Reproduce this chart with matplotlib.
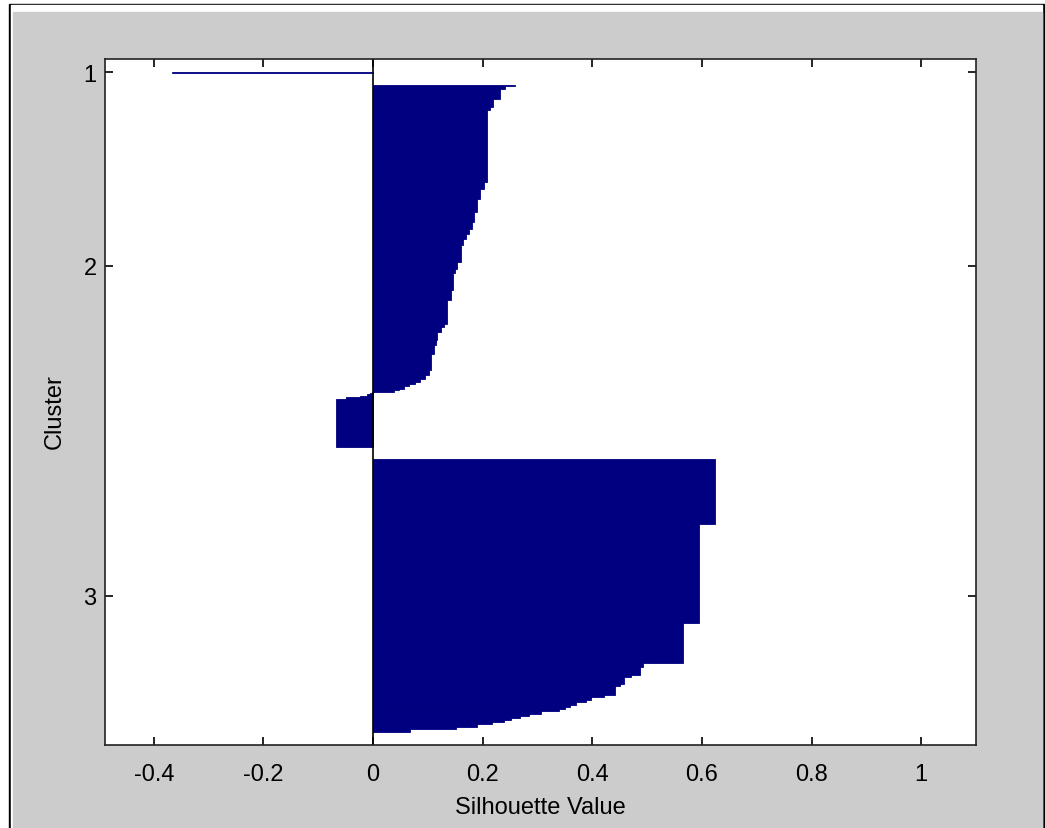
import numpy as np
import matplotlib
matplotlib.use("Agg")
import matplotlib.pyplot as plt
from matplotlib.patches import Rectangle

# Silhouette values per cluster, stored as runs (value, number of points),
# sorted from largest to smallest as in the silhouette plot
cluster_names = ["1", "2", "3"]

c1_values = [-0.367]
c1_counts = [1]

c2_values = [0.259, 0.240, 0.232, 0.219, 0.213, 0.207, 0.203, 0.196, 0.189, 0.185,
             0.181, 0.175, 0.169, 0.164, 0.161, 0.153, 0.149, 0.146, 0.1425, 0.135,
             0.130, 0.124, 0.117, 0.114, 0.111, 0.106, 0.102, 0.0955, 0.086, 0.077,
             0.065, 0.056, 0.047, 0.038, -0.002, -0.005, -0.011, -0.023, -0.050, -0.067]
c2_counts = [1, 3, 10, 8, 3, 72, 7, 10, 13, 10,
             7, 5, 5, 6, 17, 7, 4, 17, 10, 24,
             3, 5, 8, 5, 9, 16, 5, 4, 3, 2,
             2, 3, 1, 2, 1, 1, 2, 1, 2, 47]

c3_values = [0.624, 0.595, 0.566, 0.493, 0.487, 0.471, 0.457, 0.450, 0.441, 0.421,
             0.398, 0.388, 0.370, 0.360, 0.351, 0.339, 0.306, 0.284, 0.269, 0.251,
             0.239, 0.217, 0.189, 0.152, 0.068]
c3_counts = [65, 99, 40, 4, 8, 2, 7, 2, 9, 2,
             3, 2, 3, 2, 2, 2, 3, 2, 2, 2,
             2, 2, 3, 2, 3]

xticks = [-0.4, -0.2, 0, 0.2, 0.4, 0.6, 0.8, 1]
xtick_labels = ["-0.4", "-0.2", "0", "0.2", "0.4", "0.6", "0.8", "1"]

BAR_COLOR = "#000080"
FIG_GRAY = "#cccccc"


def dibujar_marco(fig):
    # marco de ventana: borde negro, franja blanca y fondo gris
    W, H = 1045.0, 829.0
    fig.add_artist(Rectangle((9 / W, 0), (1044 - 9) / W, (829 - 5) / H,
                             transform=fig.transFigure, color="black", zorder=-3))
    fig.add_artist(Rectangle((11 / W, 0), (1042 - 11) / W, (829 - 6) / H,
                             transform=fig.transFigure, color="white", zorder=-2))
    fig.add_artist(Rectangle((13 / W, 0), (1042 - 13) / W, (829 - 13) / H,
                             transform=fig.transFigure, color=FIG_GRAY, zorder=-1))


def main():
    plt.rcParams["font.family"] = ["Liberation Sans", "DejaVu Sans"]
    plt.rcParams["axes.unicode_minus"] = False

    fig = plt.figure(figsize=(10.45, 8.29), dpi=100, facecolor="white")
    dibujar_marco(fig)
    ax = fig.add_axes([105 / 1045, 83 / 829, 871 / 1045, 686 / 829])
    ax.set_facecolor("white")

    clusters = [(c1_values, c1_counts), (c2_values, c2_counts), (c3_values, c3_counts)]
    n = sum(sum(c) for _, c in clusters)
    space = max(int(0.02 * n), 2)

    pos = space + 1
    tcks = []
    for vals, counts in clusters:
        start = pos
        counts = np.array(counts)
        starts = pos + np.concatenate([[0], np.cumsum(counts)[:-1]])
        centers = starts + (counts - 1) / 2.0
        ax.barh(centers, vals, height=counts, color=BAR_COLOR,
                edgecolor=BAR_COLOR, linewidth=0.6)
        pos += counts.sum()
        tcks.append(start + (counts.sum() - 1) / 2.0)
        pos += space
    total = pos - 1

    ax.axvline(0, color="black", linewidth=1.2)

    ax.set_xlim(-0.489, 1.1)
    ax.set_ylim(total + 1, 0)
    ax.set_xticks(xticks)
    ax.set_xticklabels(xtick_labels)
    ax.set_yticks(tcks)
    ax.set_yticklabels(cluster_names)

    ax.tick_params(direction="in", top=True, right=True, length=6, width=1.2,
                   labelsize=17, colors="black")
    ax.tick_params(axis="x", pad=13)
    ax.tick_params(axis="y", pad=6)
    for sp in ax.spines.values():
        sp.set_linewidth(1.2)
        sp.set_color("#222222")

    ax.set_xlabel("Silhouette Value", fontsize=17)
    ax.set_ylabel("Cluster", fontsize=17)
    ax.xaxis.set_label_coords(0.5, -0.074)
    ax.yaxis.set_label_coords(-0.045, 0.487)

    fig.savefig("out.png", dpi=100, facecolor=fig.get_facecolor())
    plt.close(fig)


if __name__ == "__main__":
    main()
